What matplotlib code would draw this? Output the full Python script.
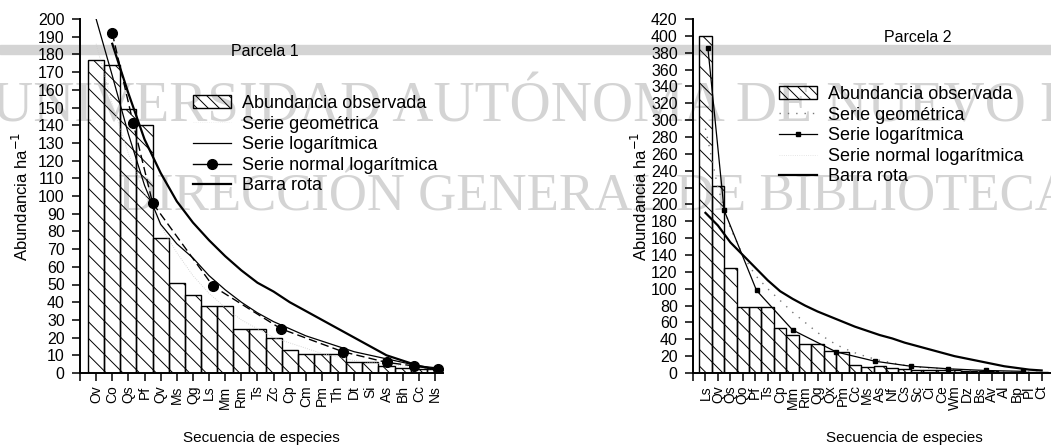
# %% setup
import numpy as np
import matplotlib.pyplot as plt
from matplotlib.lines import Line2D
from matplotlib.patches import Patch, Rectangle

plt.rcParams['font.family'] = ['Liberation Sans', 'DejaVu Sans']
plt.rcParams['hatch.linewidth'] = 0.7

# 1. Data
# Parcela 1
esp1 = ['Ov', 'Co', 'Qs', 'Pf', 'Qv', 'Ms', 'Qg', 'Ls', 'Mm', 'Rm', 'Ts',
        'Zc', 'Cp', 'Cm', 'Pm', 'Th', 'Dt', 'Si', 'As', 'Bh', 'Cc', 'Ns']
obs1 = [177, 174, 149, 140, 76, 51, 44, 38, 38, 25, 25,
        20, 13, 11, 11, 11, 6, 6, 4, 3, 2, 2]
geo1 = [186, 152, 124, 101, 83, 68, 55, 45, 37, 30, 25,
        20, 17, 14, 11, 9, 7, 6, 5, 4, 3, 2]
log1 = [200, 168, 135, 106, 84, 73, 65, 55, 47, 40, 34,
        29, 25, 21, 18, 15, 12, 10, 8, 6, 4, 3]
lnx1 = [2.0, 3.3, 4.5, 8.25, 12.45, 16.3, 19.0, 20.7, 22.2]
lny1 = [192, 141, 96, 49, 25, 12, 6, 4, 2]
rotx1 = [2, 3, 4, 5, 6, 7, 8, 9, 10, 11, 12,
         13, 14, 15, 16, 17, 18, 19, 20, 21, 22]
rota1 = [186, 158, 132, 113, 97, 85, 75, 66, 58, 51, 46,
         40, 35, 30, 25, 20, 15, 10, 7, 4, 2]

# Parcela 2
esp2 = ['Ls', 'Qv', 'Qs', 'Qo', 'Pf', 'Ts', 'Cp', 'Mm', 'Rm', 'Qg', 'Qx',
        'Pm', 'Cc', 'Ms', 'As', 'Nf', 'Cs', 'Sc', 'Ci', 'Ce', 'Wm', 'Dz',
        'Bs', 'Av', 'Al', 'Bp', 'Pl', 'Ct']
obs2 = [400, 222, 124, 78, 78, 78, 53, 45, 35, 35, 26,
        25, 10, 7, 8, 6, 5, 4, 3, 3, 3, 2,
        2, 2, 1, 1, 1, 1]
geo2 = [290, 220, 172, 140, 116, 100, 86, 72, 60, 48, 38,
        30, 24, 19, 15, 12, 9, 7, 6, 5, 4, 3,
        2, 2, 1, 1, 1, 1]
lgx2 = [1.2, 2.5, 5.1, 8.0, 11.5, 14.6, 17.5, 20.5, 23.5, 26.5]
lgy2 = [385, 193, 98, 51, 25, 14, 8, 5, 3, 2]
rota2 = [190, 175, 155, 140, 125, 110, 97, 88, 80, 73, 67,
         61, 55, 50, 45, 41, 36, 32, 28, 24, 20, 17,
         14, 11, 8, 6, 4, 3]

# 2. Figure
fig = plt.figure(figsize=(10.51, 4.46), dpi=100)

# watermark of the scanned page (behind everything)
wm = '#d4d4d4'
fig.patches.append(Rectangle((0, 1 - 54 / 446), 1, 9 / 446, transform=fig.transFigure,
                             color=wm, zorder=0))
fig.text(-8 / 1051, 1 - 121 / 446, 'UNIVERSIDAD AUTÓNOMA DE NUEVO LEÓN',
         family='Liberation Serif', fontsize=41, color=wm, va='baseline', zorder=0)
fig.text(118 / 1051, 1 - 211 / 446, 'DIRECCIÓN GENERAL DE BIBLIOTECAS',
         family='Liberation Serif', fontsize=38, color=wm, va='baseline', zorder=0)

ax1 = fig.add_axes([80 / 1051, 73 / 446, 363 / 1051, 354 / 446], zorder=1)
ax2 = fig.add_axes([693 / 1051, 73 / 446, 358 / 1051, 354 / 446], zorder=1)

for ax in (ax1, ax2):
    ax.patch.set_alpha(0)
    for s in ('top', 'right'):
        ax.spines[s].set_visible(False)
    for s in ('left', 'bottom'):
        ax.spines[s].set_linewidth(1.4)
    ax.tick_params(axis='y', direction='out', length=6, width=1.1, labelsize=11.5, pad=5)
    ax.tick_params(axis='x', direction='out', length=6, width=1.1, labelsize=10, pad=3)

lab = ['Abundancia observada', 'Serie geométrica', 'Serie logarítmica',
       'Serie normal logarítmica', 'Barra rota']

# %% Parcela 1
x1 = np.arange(1, len(obs1) + 1)
ax1.bar(x1, obs1, width=1.0, color='none', edgecolor='black', linewidth=1.0,
        hatch='\\\\', zorder=1)
ax1.plot(x1, geo1, color='#cccccc', linestyle=':', linewidth=0.6, zorder=2)
ax1.plot(x1, log1, color='black', linewidth=0.9, zorder=3)
ax1.plot(lnx1, lny1, color='black', linewidth=1.0, linestyle=(0, (6, 3)),
         marker='o', markersize=7, zorder=4)
ax1.plot(rotx1, rota1, color='black', linewidth=1.6, zorder=3)

ax1.set_xlim(0, 22.5)
ax1.set_ylim(0, 200)
ax1.set_yticks(np.arange(0, 201, 10))
ax1.set_xticks(np.arange(0, len(esp1) + 1))
ax1.set_xticklabels([''] + esp1, rotation=90)
ax1.set_ylabel('Abundancia ha$^{-1}$', fontsize=12)
ax1.yaxis.set_label_coords(-0.135, 0.50)
ax1.set_xlabel('Secuencia de especies', fontsize=11)
ax1.xaxis.set_label_coords(0.5, -0.165)
ax1.text(265 / 1051, 1 - 52 / 446, 'Parcela 1', transform=fig.transFigure,
         fontsize=11.5, ha='center', va='center')

h1 = [Patch(facecolor='none', edgecolor='black', hatch='\\\\\\'),
      Line2D([], [], color='#eeeeee', linestyle=':', linewidth=0.6),
      Line2D([], [], color='black', linewidth=0.9),
      Line2D([], [], color='black', linewidth=1.0, marker='o', markersize=7),
      Line2D([], [], color='black', linewidth=1.6)]
ax1.legend(h1, lab, loc='upper left', bbox_to_anchor=(193 / 1051, 1 - 95 / 446),
           bbox_transform=fig.transFigure, frameon=False, fontsize=13,
           handlelength=2.1, handletextpad=0.6, labelspacing=0.2,
           borderpad=0, borderaxespad=0)

# %% Parcela 2
x2 = np.arange(1, len(obs2) + 1)
ax2.bar(x2, obs2, width=1.0, color='none', edgecolor='black', linewidth=1.0,
        hatch='\\\\', zorder=1)
ax2.plot(x2, geo2, color='#777777', linestyle=(0, (1, 5)), linewidth=1.0, zorder=2)
ax2.plot(lgx2, lgy2, color='black', linewidth=0.9, marker='s', markersize=3.5, zorder=4)
ax2.plot(x2, rota2, color='black', linewidth=1.6, zorder=3)

ax2.set_xlim(0, 28.75)
ax2.set_ylim(0, 420)
ax2.set_yticks(np.arange(0, 421, 20))
ax2.set_xticks(np.arange(0, len(esp2) + 1))
ax2.set_xticklabels([''] + esp2, rotation=90)
ax2.set_ylabel('Abundancia ha$^{-1}$', fontsize=12)
ax2.yaxis.set_label_coords(-0.12, 0.50)
ax2.set_xlabel('Secuencia de especies', fontsize=11)
ax2.xaxis.set_label_coords(0.59, -0.165)
ax2.text(918 / 1051, 1 - 38 / 446, 'Parcela 2', transform=fig.transFigure,
         fontsize=11.5, ha='center', va='center')

h2 = [Patch(facecolor='none', edgecolor='black', hatch='\\\\\\'),
      Line2D([], [], color='#777777', linestyle=(0, (1, 5)), linewidth=1.0),
      Line2D([], [], color='black', linewidth=0.9, marker='s', markersize=3.5),
      Line2D([], [], color='#dddddd', linestyle=':', linewidth=0.6),
      Line2D([], [], color='black', linewidth=1.6)]
ax2.legend(h2, lab, loc='upper left', bbox_to_anchor=(779 / 1051, 1 - 86 / 446),
           bbox_transform=fig.transFigure, frameon=False, fontsize=13,
           handlelength=2.1, handletextpad=0.6, labelspacing=0.2,
           borderpad=0, borderaxespad=0)

plt.savefig('out.png', dpi=100)
